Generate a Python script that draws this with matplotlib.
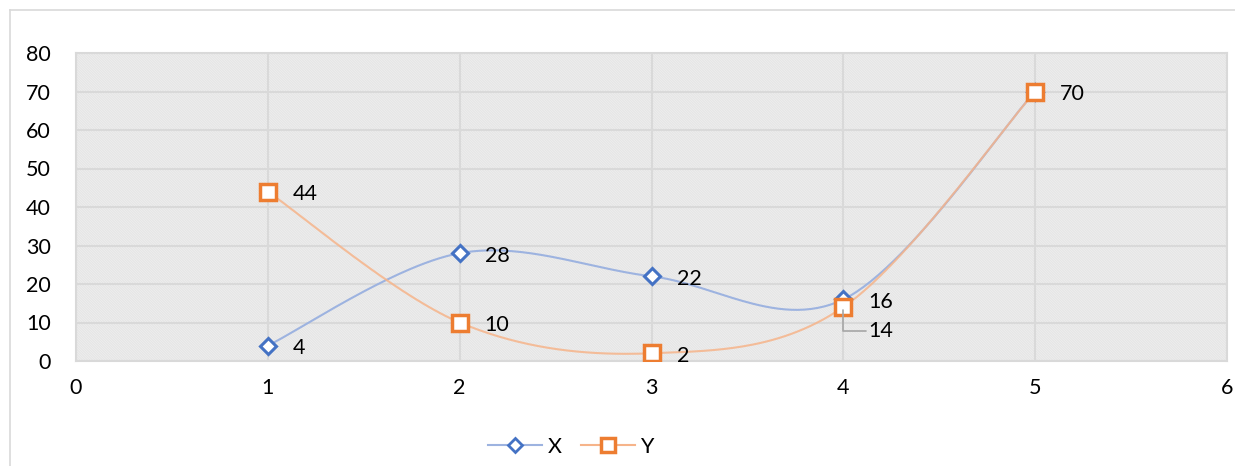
import numpy as np
import matplotlib.pyplot as plt
from matplotlib.patches import Rectangle
from matplotlib.lines import Line2D

# data
xs = [1, 2, 3, 4, 5]
x_vals = [4, 28, 22, 16, 70]
y_vals = [44, 10, 2, 14, 70]
x_ticks = [0, 1, 2, 3, 4, 5, 6]
y_ticks = [0, 10, 20, 30, 40, 50, 60, 70, 80]

plt.rcParams['font.family'] = ['Lato', 'DejaVu Sans']
plt.rcParams['hatch.color'] = '#e0e0e0'
plt.rcParams['hatch.linewidth'] = 0.6


def smooth(px, py, n=60):
    # Excel-like smoothed line: Bezier segments with Catmull-Rom control points
    p = np.column_stack([px, py]).astype(float)
    p = np.vstack([p[0], p, p[-1]])
    out = []
    t = np.linspace(0, 1, n)[:, None]
    for i in range(1, len(p) - 2):
        p0, p1, p2, p3 = p[i - 1], p[i], p[i + 1], p[i + 2]
        c1 = p1 + (p2 - p0) / 6
        c2 = p2 - (p3 - p1) / 6
        seg = ((1 - t) ** 3) * p1 + 3 * ((1 - t) ** 2) * t * c1 + 3 * (1 - t) * t ** 2 * c2 + t ** 3 * p2
        out.append(seg)
    out = np.vstack(out)
    return out[:, 0], out[:, 1]


fig = plt.figure(figsize=(12.35, 4.66), dpi=100)
W, H = 1235, 466

# outer chart border
fig.add_artist(Line2D([10 / W, 1], [1 - 10 / H, 1 - 10 / H], color='#d9d9d9', lw=1.2))
fig.add_artist(Line2D([10 / W, 10 / W], [0, 1 - 10 / H], color='#d9d9d9', lw=1.2))

ax = fig.add_axes([76 / W, 1 - 361 / H, (1227 - 76) / W, (361 - 53) / H])
ax.set_xlim(0, 6)
ax.set_ylim(0, 80)

ax.add_patch(Rectangle((0, 0), 1, 1, transform=ax.transAxes, facecolor='white',
                       edgecolor='#e0e0e0', hatch='\\' * 20, lw=0, zorder=0))

ax.set_xticks(x_ticks)
ax.set_yticks(y_ticks)
ax.grid(True, color='#d9d9d9', lw=1.5, zorder=1)
ax.set_axisbelow(True)
for s in ax.spines.values():
    s.set_color('#d9d9d9')
    s.set_linewidth(1.5)
ax.tick_params(length=0, labelsize=15.5, colors='black', pad=12)
ax.tick_params(axis='y', pad=18)

blue, blue_l = '#4472c4', '#9db3e0'
orange, orange_l = '#ed7d31', '#f6b48a'

sx, sy = smooth(xs, x_vals)
ax.plot(sx, sy, color=blue_l, lw=1.5, zorder=3)
ox, oy = smooth(xs, y_vals)
ax.plot(ox, oy, color=orange_l, lw=1.5, zorder=3, alpha=0.85)

ax.plot(xs, x_vals, ls='none', marker='D', ms=8, mfc='white', mec=blue, mew=2.2, zorder=4)
ax.plot(xs, y_vals, ls='none', marker='s', ms=12, mfc='white', mec=orange, mew=2.5, zorder=5)

# data labels
for x, v in zip(xs, x_vals):
    if x == 5:
        continue
    ax.annotate(str(v), (x, v), xytext=(18, -2), textcoords='offset points',
                ha='left', va='center', fontsize=15.5, zorder=6)
for x, v in zip(xs, y_vals):
    if x == 4:
        ax.annotate(str(v), (x, v), xytext=(18, -17), textcoords='offset points',
                    ha='left', va='center', fontsize=15.5, zorder=6,
                    arrowprops=dict(arrowstyle='-', color='#a6a6a6', lw=1.2,
                                    shrinkA=0, shrinkB=2,
                                    connectionstyle='angle,angleA=0,angleB=90,rad=0'))
    else:
        ax.annotate(str(v), (x, v), xytext=(18, -2), textcoords='offset points',
                    ha='left', va='center', fontsize=15.5, zorder=6)

handles = [
    Line2D([], [], color=blue_l, lw=1.5, marker='D', ms=7, mfc='white', mec=blue, mew=2),
    Line2D([], [], color=orange_l, lw=1.5, marker='s', ms=10, mfc='white', mec=orange, mew=2.5),
]
fig.legend(handles, ['X', 'Y'], loc='center', bbox_to_anchor=(571 / W, 1 - 447 / H),
           ncol=2, frameon=False, fontsize=15.5, handlelength=2.5, columnspacing=0.9,
           handletextpad=0.25)

fig.savefig('out.png', dpi=100)
